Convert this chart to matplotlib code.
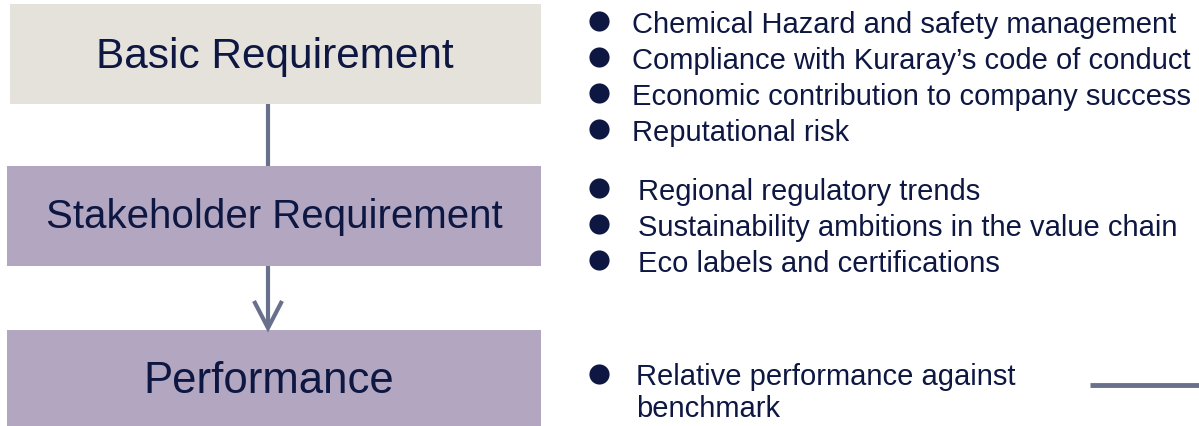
import matplotlib.pyplot as plt
from matplotlib.patches import Rectangle

plt.rcParams["font.family"] = ["Liberation Sans", "DejaVu Sans"]

# Levels of the framework and the points listed next to each
levels = ["Basic Requirement", "Stakeholder Requirement", "Performance"]
basic_points = [
    "Chemical Hazard and safety management",
    "Compliance with Kuraray\u2019s code of conduct",
    "Economic contribution to company success",
    "Reputational risk",
]
stakeholder_points = [
    "Regional regulatory trends",
    "Sustainability ambitions in the value chain",
    "Eco labels and certifications",
]
performance_points = ["Relative performance against\nbenchmark"]

text_color = "#0d1742"
line_color = "#68708c"
box_colors = ["#e5e2dc", "#b3a6c0", "#b3a6c0"]

fig = plt.figure(figsize=(11.99, 4.27), dpi=100)
ax = fig.add_axes([0, 0, 1, 1])
ax.set_xlim(0, 1199)
ax.set_ylim(427, 0)
ax.axis("off")

# boxes: (left, top, right, bottom) in pixels, label centre and size
boxes = [(10, 5, 541, 105), (7, 167, 541, 267), (7, 331, 541, 432)]
label_pos = [(275, 57, 30.5), (274, 217, 29), (269, 382, 31.5)]
for label, (x0, y0, x1, y1), color, (tx, ty, fs) in zip(levels, boxes, box_colors, label_pos):
    ax.add_patch(Rectangle((x0, y0), x1 - x0, y1 - y0, facecolor=color, edgecolor="none"))
    ax.text(tx, ty, label, ha="center", va="center", fontsize=fs, color=text_color)

# connector between first and second box
ax.plot([268, 268], [105, 167], color=line_color, lw=3, solid_capstyle="butt")
# arrow into performance box
ax.plot([268, 268], [267, 329], color=line_color, lw=3, solid_capstyle="butt")
ax.plot([254, 268, 282], [302, 329, 302], color=line_color, lw=3,
        solid_joinstyle="miter", solid_capstyle="butt")


def bullet_list(points, y_start, text_x, bullet_x=599, step=36):
    for i, p in enumerate(points):
        y = y_start + i * step
        ax.plot(bullet_x, y - 3, "o", ms=14.5, color=text_color, mec="none")
        ax.text(text_x, y, p, ha="left", va="center", fontsize=21,
                color=text_color)


bullet_list(basic_points, 25, 632)
bullet_list(stakeholder_points, 192, 638)
for p in performance_points:
    ax.plot(599, 375, "o", ms=14.5, color=text_color, mec="none")
    ax.text(636, 393, p, ha="left", va="center", fontsize=21,
            color=text_color, linespacing=1.2)

# short rule at lower right
ax.plot([1090, 1199], [386, 386], color=line_color, lw=3.5, solid_capstyle="butt")

fig.savefig("out.png", dpi=100)
